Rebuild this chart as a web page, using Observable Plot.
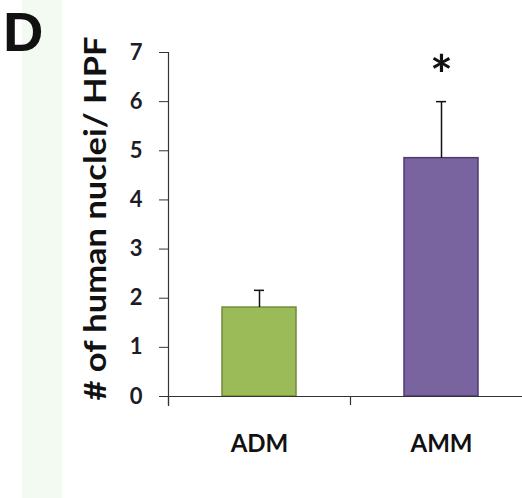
<!DOCTYPE html>
<html>
<head>
<meta charset="utf-8">
<script src="https://cdn.jsdelivr.net/npm/d3@7"></script>
<script src="https://cdn.jsdelivr.net/npm/@observablehq/plot@0.6"></script>
<style>
  html, body { margin: 0; padding: 0; background: #ffffff; }
  #wrap { position: relative; width: 522px; height: 498px; overflow: hidden; background: #ffffff; }
  #strip { position: absolute; left: 22px; top: 0; width: 40px; height: 498px; background: #f3faf2; }
  #panel { position: absolute; left: 3px; top: 4px; line-height: 1; font-family: "Liberation Sans", Arial, sans-serif; font-weight: bold; font-size: 56px; color: #111; }
  #chart { position: absolute; left: 0; top: 0; }
</style>
</head>
<body>
<div id="wrap">
  <div id="strip"></div>
  <div id="chart"></div>
  <div id="panel">D</div>
</div>
<script>
const categories = ["ADM", "AMM"];
const means = [1.81, 4.85];
const errorsUp = [0.35, 1.15];
const significance = ["", "*"];
const yTicks = [0, 1, 2, 3, 4, 5, 6, 7];
const yLabel = "# of human nuclei/ HPF";
const fills = ["#9bbb59", "#7a64a0"];
const strokes = ["#6f8c38", "#4b3b6e"];

const data = categories.map((c, i) => ({
  cat: c, mean: means[i], hi: means[i] + errorsUp[i], sig: significance[i],
  fill: fills[i], stroke: strokes[i]
}));

const W = 522, H = 498;
const mL = 168, mT = 52, mB = 102;
const xRange = [168, 532];
const step = (xRange[1] - xRange[0]) / categories.length;

const chart = Plot.plot({
  width: W, height: H,
  marginLeft: mL, marginTop: mT, marginBottom: mB, marginRight: 0,
  style: { background: "transparent", fontFamily: "Lato, 'Open Sans', sans-serif", overflow: "visible" },
  x: { domain: categories, range: xRange, padding: 0 },
  y: { domain: [0, 7] },
  marks: [
    Plot.barY(data, { x: "cat", y: "mean", fill: d => d.fill, stroke: d => d.stroke, strokeWidth: 1.5, insetLeft: 54, insetRight: 54 }),
    Plot.ruleX(data, { x: "cat", y1: "mean", y2: "hi", stroke: "#111", strokeWidth: 1.5 }),
    Plot.tickY(data, { x: "cat", y: "hi", stroke: "#111", strokeWidth: 1.5, insetLeft: step / 2 - 5, insetRight: step / 2 - 5 }),
    Plot.text(data, { x: "cat", y: "hi", text: "sig", fontSize: 54, fontWeight: "bold", fill: "#111", lineAnchor: "top", dy: -46 }),
    Plot.ruleY([0], { stroke: "#333", strokeWidth: 1.2 }),
    Plot.ruleX(categories, { x: d => d, y1: 0, y2: 0, dx: -step / 2, insetBottom: -9, stroke: "#333", strokeWidth: 1.2 }),
    Plot.frame({ anchor: "left", stroke: "#333", strokeWidth: 1.2, insetBottom: -9 }),
    Plot.axisY({ ticks: yTicks, tickSize: 9, tickPadding: 17, fontSize: 22, fontWeight: "bold", fill: "#1c1c28", stroke: "#333", label: null, tickFormat: d => String(d) }),
    Plot.axisX({ tickSize: 0, tickPadding: 38, fontSize: 24, fontWeight: "bold", fill: "#111", label: null }),
    Plot.text([yLabel], { frameAnchor: "left", textAnchor: "middle", rotate: -90, dx: -72, dy: -6, fontSize: 30, fontWeight: "bold", fill: "#111", text: d => d })
  ]
});
document.getElementById("chart").appendChild(chart);
// condense the rotated y label so it spans the same length as in the reference
chart.querySelectorAll("text").forEach(t => {
  if (t.textContent === yLabel) {
    t.setAttribute("textLength", "364");
    t.setAttribute("lengthAdjust", "spacingAndGlyphs");
  }
});
</script>
</body>
</html>
